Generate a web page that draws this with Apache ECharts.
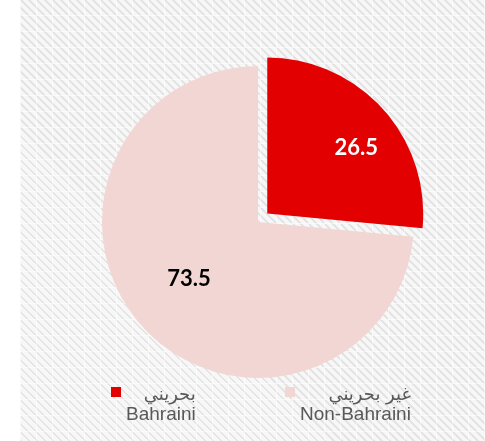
<!DOCTYPE html>
<html>
<head>
<meta charset="utf-8">
<script src="https://cdn.jsdelivr.net/npm/echarts@6/dist/echarts.min.js"></script>
<style>
  html, body { margin: 0; padding: 0; background: #ffffff; width: 485px; height: 441px; overflow: hidden; }
  #bg {
    position: absolute; left: 20px; top: 0; width: 465px; height: 441px;
    background-color: #f1f1f1;
    background-image:
      linear-gradient(90deg, rgba(255,255,255,0.55) 1px, transparent 1px),
      linear-gradient(0deg, rgba(255,255,255,0.55) 1px, transparent 1px),
      repeating-linear-gradient(45deg, #e4e4e4 0px, #e4e4e4 2px, #f7f7f7 2px, #f7f7f7 5.66px);
    background-size: 16px 16px, 16px 16px, auto;
  }
  #chart { position: absolute; left: 20px; top: 0; width: 465px; height: 441px; }
</style>
</head>
<body>
<div id="bg"></div>
<div id="chart"></div>
<script>
// ---- data ----
var categoriesEn = ['Bahraini', 'Non-Bahraini'];
var categoriesAr = ['بحريني', 'غير بحريني'];
var values = [26.5, 73.5];
var colors = ['#E20000', '#F2D6D3'];
var labelColors = ['#FFFFFF', '#000000'];

var arByEn = {};
categoriesEn.forEach(function (c, i) { arByEn[c] = categoriesAr[i]; });

var seriesData = categoriesEn.map(function (c, i) {
  return {
    name: c,
    value: values[i],
    selected: i === 0,
    itemStyle: { color: colors[i] },
    label: { color: labelColors[i] }
  };
});

var legendRich = {
  sp: { lineHeight: 26, fontSize: 12, color: 'transparent' },
  ar: { lineHeight: 20, fontSize: 18, color: '#595959', align: 'right',
        fontFamily: 'DejaVu Sans, Noto Sans, sans-serif' },
  en: { lineHeight: 20, fontSize: 19, color: '#595959', align: 'left',
        fontFamily: 'Liberation Sans, Arial, sans-serif' }
};

function legendFor(name, left) {
  return {
    data: [name],
    left: left,
    top: 366,
    orient: 'horizontal',
    icon: 'rect',
    itemWidth: 10,
    itemHeight: 10,
    padding: 0,
    selectedMode: false,
    formatter: function (n) { return '{sp| }\n{ar|' + arByEn[n] + '}\n{en|' + n + '}'; },
    textStyle: { rich: legendRich, color: '#595959' }
  };
}

var chart = echarts.init(document.getElementById('chart'), null, { renderer: 'canvas' });
chart.setOption({
  animation: false,
  backgroundColor: 'transparent',
  legend: [legendFor(categoriesEn[0], 91), legendFor(categoriesEn[1], 265)],
  series: [{
    type: 'pie',
    center: [238, 222],
    radius: [0, 156],
    startAngle: 90,
    clockwise: true,
    selectedMode: 'single',
    selectedOffset: 12.5,
    avoidLabelOverlap: false,
    itemStyle: { borderWidth: 0 },
    label: {
      show: true,
      position: 'inside',
      fontFamily: 'Lato',
      fontWeight: 'bold',
      fontSize: 22,
      formatter: function (p) { return p.value.toFixed(1); }
    },
    labelLine: { show: false },
    labelLayout: function (p) {
      return p.dataIndex === 0 ? { dx: 29, dy: -11.5 } : { dx: -9, dy: 2 };
    },
    emphasis: { disabled: true },
    data: seriesData
  }]
});
</script>
</body>
</html>
